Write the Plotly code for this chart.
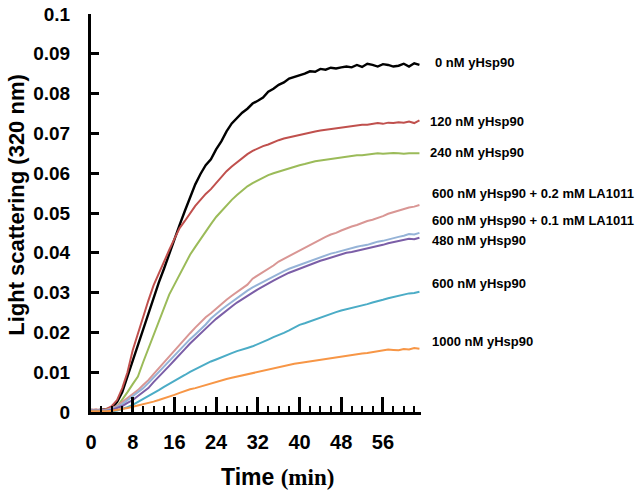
import plotly.graph_objects as go

time_min = list(range(0, 64))

s0 = [0.0005, 0.0004, 0.0006, 0.0007, 0.001, 0.0025, 0.005, 0.009, 0.013, 0.0168,
      0.021, 0.025, 0.029, 0.0325, 0.036, 0.0398, 0.0435, 0.047, 0.0505, 0.054,
      0.0572, 0.0598, 0.062, 0.0635, 0.066, 0.068, 0.0705, 0.0725, 0.0738, 0.0752,
      0.0762, 0.0775, 0.0782, 0.079, 0.0805, 0.0812, 0.0822, 0.0828, 0.0838, 0.0842,
      0.0845, 0.085, 0.0856, 0.0855, 0.0862, 0.086, 0.0865, 0.0863, 0.0866, 0.0868,
      0.0866, 0.0872, 0.0867, 0.0875, 0.0872, 0.0868, 0.0874, 0.0872, 0.0868, 0.087,
      0.0875, 0.0868, 0.0876, 0.0872]
s120 = [0.0005, 0.0006, 0.0004, 0.0008, 0.0015, 0.003, 0.006, 0.010, 0.0155, 0.0198,
        0.024, 0.028, 0.0318, 0.0348, 0.038, 0.0407, 0.0435, 0.0462, 0.048, 0.050,
        0.0518, 0.0533, 0.0548, 0.056, 0.0575, 0.059, 0.0605, 0.0617, 0.0628, 0.0638,
        0.0648, 0.0656, 0.0663, 0.0668, 0.0672, 0.0678, 0.0683, 0.0687, 0.069, 0.0694,
        0.0697, 0.070, 0.0703, 0.0705, 0.0707, 0.0709, 0.071, 0.0713, 0.0715, 0.0717,
        0.0718, 0.072, 0.0722, 0.0722, 0.0724, 0.0726, 0.0724, 0.0727, 0.0726, 0.0728,
        0.0727, 0.073, 0.0726, 0.0733]
s240 = [0.0003, 0.0005, 0.0004, 0.0006, 0.0008, 0.0013, 0.003, 0.005, 0.007, 0.0089,
        0.0125, 0.016, 0.0195, 0.023, 0.0265, 0.0295, 0.032, 0.0345, 0.037, 0.0395,
        0.0415, 0.0435, 0.0455, 0.0472, 0.049, 0.0505, 0.052, 0.0533, 0.0545, 0.0557,
        0.0567, 0.0575, 0.0582, 0.059, 0.0595, 0.060, 0.0604, 0.0608, 0.0613, 0.0617,
        0.062, 0.0623, 0.0627, 0.063, 0.0632, 0.0634, 0.0636, 0.0638, 0.064, 0.0641,
        0.0643, 0.0645, 0.0645, 0.0647, 0.0648, 0.065, 0.0649, 0.065, 0.0651, 0.065,
        0.0649, 0.065, 0.065, 0.065]
s600_02 = [0.0005, 0.0004, 0.0006, 0.0005, 0.001, 0.0015, 0.0025, 0.0035, 0.0045, 0.0055,
           0.0068, 0.008, 0.0095, 0.011, 0.0125, 0.014, 0.0155, 0.017, 0.0185, 0.0198,
           0.0212, 0.0225, 0.0238, 0.0248, 0.026, 0.027, 0.0282, 0.0292, 0.0302, 0.031,
           0.032, 0.0335, 0.0343, 0.035, 0.036, 0.0368, 0.0378, 0.0385, 0.0392, 0.040,
           0.0407, 0.0413, 0.042, 0.0428, 0.0433, 0.044, 0.0446, 0.045, 0.0456, 0.0462,
           0.0466, 0.047, 0.0475, 0.048, 0.0483, 0.0487, 0.0492, 0.0498, 0.0502, 0.0506,
           0.051, 0.0514, 0.0516, 0.052]
s600_01 = [0.0004, 0.0004, 0.0005, 0.0004, 0.0008, 0.0013, 0.002, 0.003, 0.004, 0.005,
           0.006, 0.0073, 0.0087, 0.010, 0.0115, 0.0129, 0.0143, 0.0157, 0.017, 0.0183,
           0.0195, 0.0207, 0.022, 0.0235, 0.0247, 0.0257, 0.0267, 0.0277, 0.0287, 0.0295,
           0.0305, 0.0313, 0.032, 0.0328, 0.0335, 0.0342, 0.0348, 0.0354, 0.036, 0.0365,
           0.037, 0.0375, 0.038, 0.0385, 0.0389, 0.0393, 0.0398, 0.0401, 0.0405, 0.0408,
           0.0411, 0.0415, 0.0418, 0.042, 0.0424, 0.0428, 0.043, 0.0434, 0.0437, 0.044,
           0.0443, 0.0447, 0.0446, 0.045]
s480 = [0.0003, 0.0003, 0.0004, 0.0003, 0.0005, 0.001, 0.0015, 0.0023, 0.003, 0.004,
        0.005, 0.006, 0.0075, 0.0088, 0.0102, 0.0116, 0.013, 0.0145, 0.0158, 0.0172,
        0.0185, 0.0197, 0.021, 0.0222, 0.0234, 0.0245, 0.0255, 0.0265, 0.0275, 0.0284,
        0.0292, 0.030, 0.0308, 0.0316, 0.0323, 0.033, 0.0337, 0.0344, 0.035, 0.0355,
        0.036, 0.0366, 0.0371, 0.0376, 0.038, 0.0384, 0.0388, 0.0392, 0.0396, 0.040,
        0.0402, 0.0405, 0.0408, 0.041, 0.0414, 0.0417, 0.042, 0.0424, 0.0427, 0.043,
        0.0432, 0.0435, 0.0434, 0.0438]
s600 = [0.0002, 0.0002, 0.0003, 0.0002, 0.0002, 0.0004, 0.0008, 0.0012, 0.0018, 0.0025,
        0.0032, 0.004, 0.0047, 0.0055, 0.0063, 0.007, 0.0078, 0.0085, 0.0093, 0.0101,
        0.0108, 0.0115, 0.0121, 0.0127, 0.0132, 0.0138, 0.0143, 0.0148, 0.0153, 0.0158,
        0.0161, 0.0165, 0.017, 0.0176, 0.0182, 0.0188, 0.0193, 0.0199, 0.0205, 0.0212,
        0.0219, 0.0223, 0.0228, 0.0233, 0.0238, 0.0242, 0.0247, 0.0251, 0.0255, 0.0258,
        0.0261, 0.0265, 0.0268, 0.0271, 0.0275, 0.0278, 0.0282, 0.0286, 0.0289, 0.0292,
        0.0295, 0.0298, 0.0299, 0.0302]
s1000 = [0.0002, 0.0002, 0.0001, 0.0002, 0.0003, 0.0005, 0.0007, 0.001, 0.0013, 0.0016,
         0.0019, 0.0022, 0.0026, 0.003, 0.0034, 0.0038, 0.0043, 0.0048, 0.0053, 0.0057,
         0.006, 0.0064, 0.0068, 0.0072, 0.0076, 0.008, 0.0083, 0.0086, 0.0089, 0.0092,
         0.0095, 0.0098, 0.0101, 0.0104, 0.0107, 0.011, 0.0113, 0.0116, 0.0118, 0.0121,
         0.0123, 0.0125, 0.0128, 0.013, 0.0132, 0.0134, 0.0136, 0.0138, 0.014, 0.0142,
         0.0143, 0.0145, 0.0147, 0.0148, 0.015, 0.0152, 0.0155, 0.0157, 0.0156, 0.0155,
         0.0158, 0.0157, 0.0161, 0.0159]

labels = ["0 nM yHsp90", "120 nM yHsp90", "240 nM yHsp90",
          "600 nM yHsp90 + 0.2 mM LA1011", "600 nM yHsp90 + 0.1 mM LA1011",
          "480 nM yHsp90", "600 nM yHsp90", "1000 nM yHsp90"]
label_y = [0.0879, 0.0729, 0.0651, 0.0549, 0.0482, 0.0432, 0.0323, 0.0176]
label_x = [1.035, 1.021, 1.021, 1.027, 1.027, 1.027, 1.027, 1.027]

series = [s0, s120, s240, s600_02, s600_01, s480, s600, s1000]
colors = ["#000000", "#c0504d", "#9bbb59", "#d99694", "#95b3d7", "#7b5ea7", "#4bacc6", "#f79646"]
widths = [2.4, 2, 2, 2, 2, 2, 2, 2]

x_ticks = [0, 8, 16, 24, 32, 40, 48, 56]
y_ticks = [0, 0.01, 0.02, 0.03, 0.04, 0.05, 0.06, 0.07, 0.08, 0.09, 0.1]
y_ticklabels = ["0", "0.01", "0.02", "0.03", "0.04", "0.05", "0.06", "0.07", "0.08", "0.09", "0.1"]

SANS = "Liberation Sans, Arial, sans-serif"
SERIF = "Liberation Serif, Times New Roman, serif"

fig = go.Figure()
for s, c, w in zip(series, colors, widths):
    fig.add_trace(go.Scatter(x=time_min, y=s, mode="lines",
                             line=dict(color=c, width=w), showlegend=False,
                             hoverinfo="skip"))

for lab, lx, ly in zip(labels, label_x, label_y):
    fig.add_annotation(x=lx, y=ly, xref="paper", yref="y", text="<b>%s</b>" % lab,
                       showarrow=False, xanchor="left", yanchor="middle",
                       font=dict(family=SANS, size=13, color="#000000"))

# axis titles
fig.add_annotation(x=0.565, y=-0.163, xref="paper", yref="paper",
                   text="<b>Time</b> <b><span style='font-family:%s'>(min)</span></b>" % SERIF,
                   showarrow=False, xanchor="center", yanchor="middle",
                   font=dict(family=SANS, size=23, color="black"))
fig.add_annotation(x=-0.228, y=0.52, xref="paper", yref="paper",
                   text="<b>Light scattering (320 nm)</b>", textangle=-90,
                   showarrow=False, xanchor="center", yanchor="middle",
                   font=dict(family=SANS, size=22, color="black"))

fig.update_layout(
    width=638, height=495,
    margin=dict(l=91, r=217, t=14, b=83),
    paper_bgcolor="white", plot_bgcolor="white",
    font=dict(family=SANS, color="#000000"),
    xaxis=dict(range=[0, 63.3], tickvals=x_ticks, ticktext=["<b>%d</b>" % v for v in x_ticks],
               showgrid=False, zeroline=False, showline=True, linecolor="black",
               linewidth=3, ticks="inside", ticklen=15, tickwidth=2.5, tickcolor="black",
               ticklabelstandoff=10, automargin=False,
               tickfont=dict(family=SANS, size=20, color="black"),
               minor=dict(dtick=2, tick0=0, ticks="inside", ticklen=6, tickwidth=2,
                          tickcolor="black", showgrid=False)),
    yaxis=dict(range=[0, 0.1], tickvals=y_ticks, ticktext=["<b>%s</b>" % t for t in y_ticklabels],
               showgrid=False, zeroline=False, showline=True, linecolor="black",
               linewidth=3, ticks="inside", ticklen=8, tickwidth=2.5, tickcolor="black",
               ticklabelstandoff=14, automargin=False,
               tickfont=dict(family=SANS, size=19, color="black")),
)

fig.write_html("out.html", config={"displayModeBar": False},
               post_script="document.body.style.margin='0';document.body.style.padding='0';")
